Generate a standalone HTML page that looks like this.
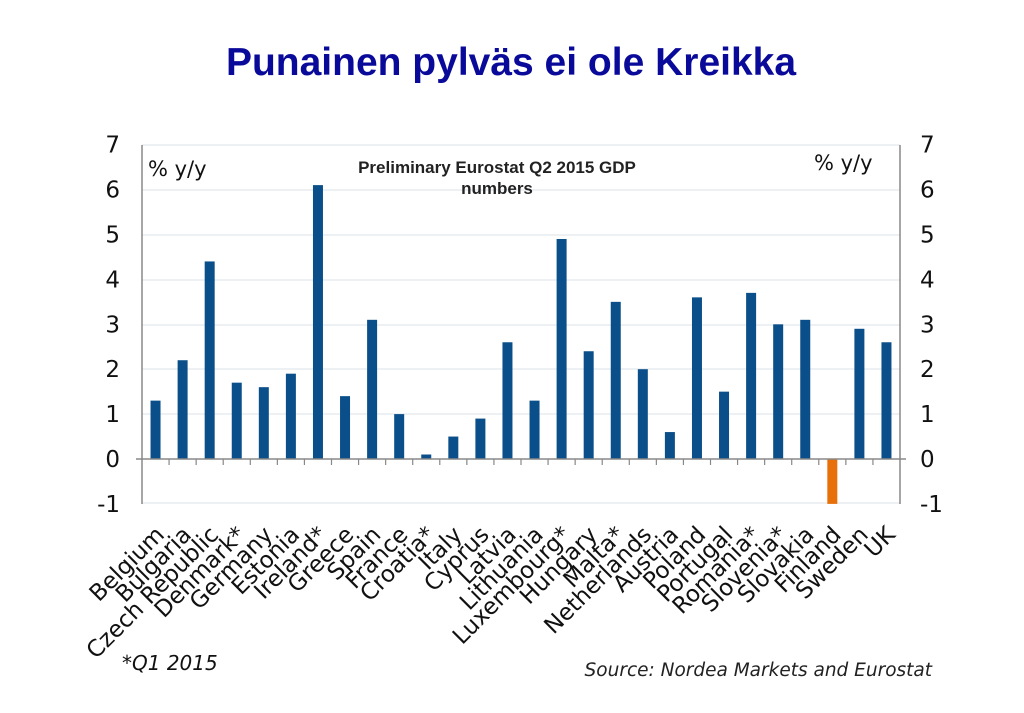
<!DOCTYPE html>
<html><head><meta charset="utf-8"><style>
html,body{margin:0;padding:0;background:#fff}
svg{display:block}
</style></head><body>
<svg width="1024" height="713" xmlns="http://www.w3.org/2000/svg" font-family="'DejaVu Sans','Liberation Sans',sans-serif">
<text x="511" y="75" text-anchor="middle" font-family="'Liberation Sans',sans-serif" font-weight="bold" font-size="39" fill="#0a0a9a">Punainen pylväs ei ole Kreikka</text>
<g stroke="#dde3ea" stroke-width="1">
<line x1="142" x2="900" y1="145" y2="145"/><line x1="142" x2="900" y1="190" y2="190"/><line x1="142" x2="900" y1="235" y2="235"/><line x1="142" x2="900" y1="280" y2="280"/><line x1="142" x2="900" y1="325" y2="325"/><line x1="142" x2="900" y1="369" y2="369"/><line x1="142" x2="900" y1="414" y2="414"/><line x1="142" x2="900" y1="503" y2="503"/>
</g>
<g id="bars"></g>
<g stroke="#888" stroke-width="1.5" fill="none">
<line x1="142" y1="145" x2="142" y2="504"/><line x1="900" y1="145" x2="900" y2="504"/>
<line x1="136" y1="459" x2="906" y2="459"/>
</g>
<g id="ticks" stroke="#888" stroke-width="1.2"></g>
<g font-size="23" fill="#111" id="yl"></g>
<text x="148" y="176" font-size="21" fill="#111">% y/y</text>
<text x="814" y="170" font-size="21" fill="#111">% y/y</text>
<text x="497" y="173" text-anchor="middle" font-family="'Liberation Sans',sans-serif" font-weight="bold" font-size="17" fill="#222">Preliminary Eurostat  Q2 2015 GDP</text>
<text x="497" y="194" text-anchor="middle" font-family="'Liberation Sans',sans-serif" font-weight="bold" font-size="17" fill="#222">numbers</text>
<g id="xl" font-size="23" fill="#111"></g>
<text x="122" y="670" font-size="20" font-style="italic" fill="#111">*Q1 2015</text>
<text x="932" y="676" text-anchor="end" font-size="18.5" font-style="italic" fill="#222">Source: Nordea Markets and Eurostat</text>
<script>
var n=["Belgium","Bulgaria","Czech Republic","Denmark*","Germany","Estonia","Ireland*","Greece","Spain","France","Croatia*","Italy","Cyprus","Latvia","Lithuania","Luxembourg*","Hungary","Malta*","Netherlands","Austria","Poland","Portugal","Romania*","Slovenia*","Slovakia","Finland","Sweden","UK"];
var v=[1.3,2.2,4.4,1.7,1.6,1.9,6.1,1.4,3.1,1.0,0.1,0.5,0.9,2.6,1.3,4.9,2.4,3.5,2.0,0.6,3.6,1.5,3.7,3.0,3.1,-1.0,2.9,2.6];
var ns="http://www.w3.org/2000/svg",w=758/28,z=459,u=44.9;
function el(t,a,p,txt){var e=document.createElementNS(ns,t);for(var k in a)e.setAttribute(k,a[k]);if(txt)e.textContent=txt;document.getElementById(p).appendChild(e);}
for(var i=0;i<28;i++){var cx=142+w*(i+0.5),h=v[i]*u;
el("rect",{x:cx-5,y:h>0?z-h:z,width:10,height:Math.abs(h),fill:v[i]<0?"#e8700a":"#0b4f8a"},"bars");
if(i>0)el("line",{x1:142+w*i,x2:142+w*i,y1:459,y2:465},"ticks");
el("text",{"text-anchor":"end",transform:"translate("+(cx+10)+",536) rotate(-45)"},"xl",n[i]);}
for(var k=-1;k<=7;k++){var y=z-k*u+8;el("text",{x:120,y:y,"text-anchor":"end"},"yl",""+k);el("text",{x:920,y:y},"yl",""+k);}
</script>
</svg>
</body></html>
